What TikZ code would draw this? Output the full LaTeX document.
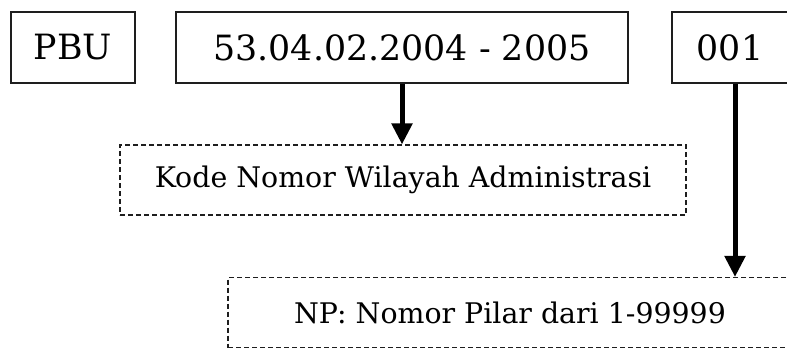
\documentclass[tikz,border=0pt]{standalone}
\usepackage{fontspec}
\setmainfont{DejaVu Serif}
\usepackage{xcolor}
\definecolor{garis}{RGB}{30,30,30}
\usetikzlibrary{positioning,arrows.meta}

\begin{document}
\begin{tikzpicture}[
  x=1pt, y=-1pt,
  kotak/.style={
    draw=garis, line width=1.2pt,
    inner sep=0pt, minimum height=71pt,
    font=\fontsize{34.8}{38}\selectfont
  },
  ket/.style={
    draw=garis, line width=1.1pt, dash pattern=on 5pt off 3pt,
    inner sep=0pt, minimum height=70pt,
    font=\fontsize{28.4}{31}\selectfont
  },
  panah/.style={
    line width=5pt, draw=black,
    -{Triangle[length=21pt, width=20pt]}
  }
]

% Frame
\useasboundingbox (0,0) rectangle (787,349);
\clip (0,0) rectangle (787,349);

% Top boxes
\node[kotak, minimum width=124pt] (pbu) at (73,47.5) {PBU};
\node[kotak, minimum width=452pt] (wil) at (402,47.5) {53.04.02.2004 - 2005};
\node[kotak, minimum width=116pt] (nomor) at (730,47.5) {001};

% Explanations
\node[ket, minimum width=566pt] (ketwil) at (403,180) {Kode Nomor Wilayah Administrasi};
\node[ket, minimum width=564pt] (ketnp) at (510,312.5) {NP: Nomor Pilar dari 1-99999};

% Arrows
\draw[panah] (wil.south) -- (wil.south |- ketwil.north);
\draw[panah] ([xshift=5pt]nomor.south) -- ([xshift=5pt]nomor.south |- ketnp.north);

\end{tikzpicture}
\end{document}
